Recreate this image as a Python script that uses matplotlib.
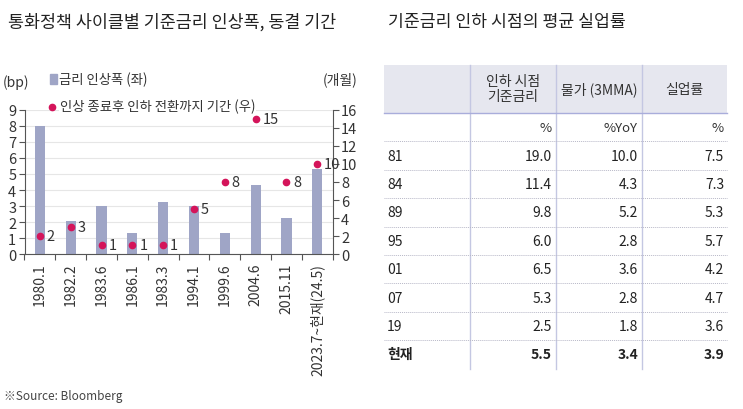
import matplotlib

matplotlib.use("Agg")
import matplotlib.pyplot as plt
import numpy as np

plt.rcParams["font.family"] = ["Noto Sans CJK KR", "DejaVu Sans"]
plt.rcParams["font.size"] = 10

# chart data
periods = ["1980.1", "1982.2", "1983.6", "1986.1", "1983.3", "1994.1",
           "1999.6", "2004.6", "2015.11", "2023.7~현재(24.5)"]
hike_bp = [8.0, 2.05, 3.0, 1.3, 3.25, 3.0, 1.3, 4.3, 2.25, 5.3]
hold_months = [2, 3, 1, 1, 1, 5, 8, 15, 8, 10]

# table data
row_labels = ["81", "84", "89", "95", "01", "07", "19", "현재"]
col_headers = ["인하 시점\n기준금리", "물가 (3MMA)", "실업률"]
col_units = ["%", "%YoY", "%"]
policy_rate = [19.0, 11.4, 9.8, 6.0, 6.5, 5.3, 2.5, 5.5]
cpi_3mma = [10.0, 4.3, 5.2, 2.8, 3.6, 2.8, 1.8, 3.4]
unemployment = [7.5, 7.3, 5.3, 5.7, 4.2, 4.7, 3.6, 3.9]

TXT = "#333333"
BAR = "#9fa5c6"
DOT = "#d4145a"
W, H = 743, 410

fig = plt.figure(figsize=(W / 100, H / 100), dpi=100)

# ---- left chart ----
ax = fig.add_axes([24.5 / W, 1 - 255.3 / H, (332.7 - 24.5) / W, (255.3 - 110.7) / H])
ax.patch.set_visible(False)
x = np.arange(len(periods))
ax.bar(x, hike_bp, width=0.33, color=BAR, zorder=2)
ax.set_xlim(-0.5, len(periods) - 0.5)
ax.set_ylim(0, 9)
ax.set_yticks(range(0, 10))
ax.grid(axis="y", color="#e6e6e6", linewidth=0.8, zorder=0)
ax.set_xticks(np.arange(-0.5, len(periods)), minor=False)
ax.set_xticklabels([])
ax.set_xticks(x, minor=True)
ax.set_xticklabels(periods, minor=True, rotation=90, fontsize=10, color=TXT)
ax.tick_params(axis="x", which="minor", length=0, pad=6)
ax.tick_params(axis="x", which="major", length=4, color="#555")
ax.tick_params(axis="y", length=4, color="#555", labelsize=10.5, labelcolor=TXT, pad=2)
for s in ["top", "right"]:
    ax.spines[s].set_visible(False)
for s in ["left", "bottom"]:
    ax.spines[s].set_color("#555")

ax2 = ax.twinx()
ax2.patch.set_visible(False)
ax2.set_ylim(0, 16)
ax2.set_yticks(range(0, 17, 2))
ax2.plot(x, hold_months, "o", color=DOT, markersize=4.5, zorder=3)
for xi, v in zip(x, hold_months):
    ax2.annotate(str(v), (xi, v), xytext=(5, 0), textcoords="offset points",
                 fontsize=10.5, color=TXT, va="center", ha="left")
ax2.tick_params(axis="y", length=4, color="#555", labelsize=10.5, labelcolor=TXT, pad=2)
for s in ["top", "left", "bottom"]:
    ax2.spines[s].set_visible(False)
ax2.spines["right"].set_color("#555")

# overlay in pixel coordinates for titles / legend / table
ov = fig.add_axes([0, 0, 1, 1])
ov.patch.set_visible(False)
ov.set_xlim(0, W)
ov.set_ylim(H, 0)
ov.axis("off")

ov.text(8, 22, "통화정책 사이클별 기준금리 인상폭, 동결 기간", fontsize=12.5,
        color="#222", va="center", ha="left")
ov.text(388, 22, "기준금리 인하 시점의 평균 실업률", fontsize=12.4,
        color="#222", va="center", ha="left")
ov.text(4, 397, "※Source: Bloomberg", fontsize=8.5, color="#444",
        va="center", ha="left")

ov.text(3, 83, "(bp)", fontsize=10, color=TXT, va="center")
ov.text(323, 80, "(개월)", fontsize=10, color=TXT, va="center")
ov.add_patch(plt.Rectangle((50, 75), 7, 10, color=BAR))
ov.text(59, 80, "금리 인상폭 (좌)", fontsize=9.6, color=TXT, va="center")
ov.plot([52], [107.5], "o", color=DOT, markersize=4.5)
ov.text(60, 107, "인상 종료후 인하 전환까지 기간 (우)", fontsize=9.6, color=TXT,
        va="center", bbox=dict(facecolor="white", edgecolor="none", pad=0.5))

# ---- right table ----
t_left, t_right = 384, 727
col_lines = [470, 556, 642]
col_right = [552, 638, 724]
head_top, head_bot = 65.5, 114
row_h = 28.4

ov.add_patch(plt.Rectangle((t_left, head_top), t_right - t_left, head_bot - head_top,
                           color="#e6e7ef", lw=0, zorder=0))
ov.plot([t_left, t_right], [head_bot, head_bot], color="#a9addb", lw=1.0)
centers = [(col_lines[0] + col_lines[1]) / 2, (col_lines[1] + col_lines[2]) / 2,
           (col_lines[2] + t_right) / 2]
for cx, h in zip(centers, col_headers):
    ov.text(cx, (head_top + head_bot) / 2, h, fontsize=10, color=TXT,
            ha="center", va="center", linespacing=1.05)

n_rows = len(row_labels) + 1
bottom = head_bot + n_rows * row_h
for cl in col_lines:
    ov.plot([cl, cl], [head_top, bottom], color="#c4c7e2", lw=1.0, zorder=1)

for i in range(1, n_rows):
    yy = head_bot + i * row_h
    ov.plot([t_left, t_right], [yy, yy], color="#b8b8c8", lw=0.7,
            linestyle=(0, (1, 1)))

yc = head_bot + row_h / 2
for cr, u in zip(col_right, col_units):
    ov.text(cr, yc, u, fontsize=9.5, color=TXT, ha="right", va="center")

for i, lab in enumerate(row_labels):
    yc = head_bot + (i + 1.5) * row_h
    fw = "bold" if lab == "현재" else "normal"
    ov.text(387, yc, lab, fontsize=10, color="#222", ha="left", va="center", fontweight=fw)
    for cr, vals in zip(col_right, [policy_rate, cpi_3mma, unemployment]):
        ov.text(cr, yc, f"{vals[i]:.1f}", fontsize=10, color="#222", ha="right",
                va="center", fontweight=fw)

fig.savefig("out.png", dpi=100, facecolor="white")
